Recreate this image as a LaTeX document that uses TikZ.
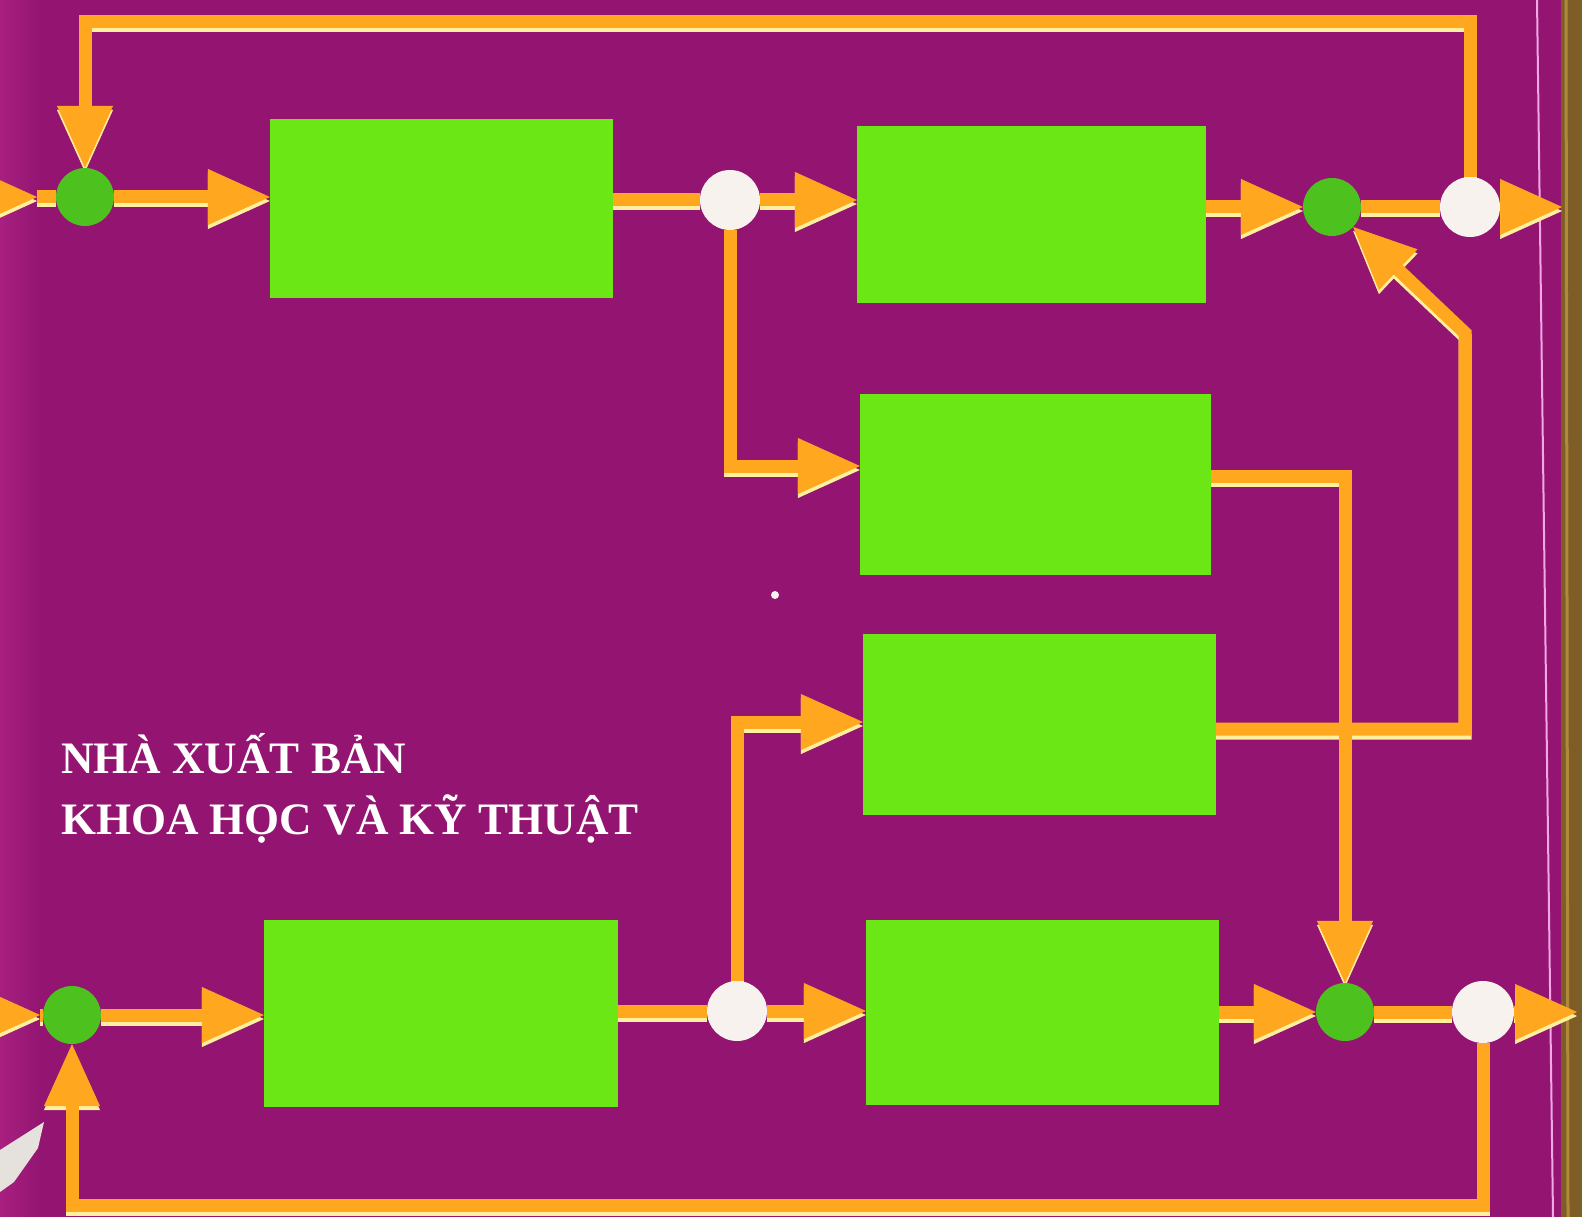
\documentclass[tikz,border=0pt]{standalone}
\usepackage{fontspec}
\setmainfont{Liberation Serif}
\usetikzlibrary{arrows.meta}
\pgfdeclarelayer{fg}
\pgfsetlayers{main,fg}
\definecolor{bgmag}{HTML}{931571}
\definecolor{bgmagl}{HTML}{A81F80}
\definecolor{lineor}{HTML}{FFA81F}
\definecolor{linecr}{HTML}{FFF0A0}
\definecolor{boxgreen}{HTML}{6AE714}
\definecolor{circgreen}{HTML}{4DC21F}
\definecolor{whitec}{HTML}{F7F2EE}
\definecolor{spine}{HTML}{7E5E26}
\definecolor{spinel}{HTML}{B08A3A}
\definecolor{pinkline}{HTML}{F2A6E6}
\newcommand\mkconn[2][]{%
  \draw[creamline,#1] #2;
  \draw[orline,#1] #2;}
\begin{document}
\begin{tikzpicture}[x=1pt,y=-1pt,
  gbox/.style={fill=boxgreen, draw=none, inner sep=0pt},
  sumj/.style={circle, fill=circgreen, minimum size=58pt, inner sep=0pt},
  branch/.style={circle, fill=whitec, minimum size=60pt, inner sep=0pt},
  orline/.style={draw=lineor, line width=13pt, line join=miter},
  creamline/.style={draw=linecr, line width=13pt, line join=miter, transform canvas={yshift=-4pt}},
  arr/.style={-{Triangle[length=62pt,width=56pt,line width=0.5pt]}},
  pubtext/.style={text=white, font=\bfseries\fontsize{45}{54}\selectfont, inner sep=0pt, anchor=base west}]
\useasboundingbox (0,0) rectangle (1582,1217);
% background
\fill[bgmag] (0,0) rectangle (1582,1217);
\shade[left color=bgmagl, right color=bgmag] (0,0) rectangle (40,1217);
\fill[spine] (1561,0) rectangle (1582,1217);
\draw[spinel, line width=3pt] (1566,0) -- (1568,1217);
\draw[pinkline, line width=2pt] (1537,0) -- (1553,1217);
\fill[whitec] (775,595) circle (4pt);
\fill[whitec!85!gray] (0,1150) -- (44,1122) -- (38,1148) -- (14,1182) -- (0,1192) -- cycle;
% coordinates
\coordinate (top) at (0,22);
\coordinate (bot) at (0,1205);
\coordinate (r3) at (0,466);
\coordinate (r3b) at (0,476);
\coordinate (r4) at (0,722);
\coordinate (r5) at (0,729);
\coordinate (rx) at (1465,333);
\coordinate (in1) at (-30,197);
\coordinate (a1) at (37,197);
\coordinate (in2) at (-27,1015);
\coordinate (a2) at (40,1015);
\coordinate (out1) at (1562,207);
\coordinate (out2) at (1577,1012);
% nodes
\begin{pgfonlayer}{fg}
\node[gbox, minimum width=343pt, minimum height=179pt] (B1) at (441.5,208.5) {};
\node[gbox, minimum width=349pt, minimum height=177pt] (B2) at (1031.5,214.5) {};
\node[gbox, minimum width=351pt, minimum height=181pt] (B3) at (1035.5,484.5) {};
\node[gbox, minimum width=353pt, minimum height=181pt] (B4) at (1039.5,724.5) {};
\node[gbox, minimum width=354pt, minimum height=187pt] (B5) at (441,1013.5) {};
\node[gbox, minimum width=353pt, minimum height=185pt] (B6) at (1042.5,1012.5) {};
\node[sumj] (G1) at (85,197) {};
\node[branch] (W1) at (730,200) {};
\node[sumj] (G2) at (1332,207) {};
\node[branch] (W2) at (1470,207) {};
\node[sumj] (G3) at (72,1015) {};
\node[branch] (W3) at (737,1011) {};
\node[sumj] (G4) at (1345,1012) {};
\node[branch, minimum size=62pt] (W4) at (1483,1012) {};
\node[pubtext] (t1) at (61,773) {NHÀ XUẤT BẢN};
\node[pubtext] (t2) at (61,834) {KHOA HỌC VÀ KỸ THUẬT};
\end{pgfonlayer}
% connectors
\mkconn{(a1) -- (G1)}
\mkconn[arr]{(in1) -- (a1)}
\mkconn[arr]{(G1) -- (G1 -| B1.west)}
\mkconn{(B1.east |- W1) -- (W1)}
\mkconn[arr]{(W1) -- (W1 -| B2.west)}
\mkconn[arr]{(B2.east |- G2) -- (G2)}
\mkconn{(G2) -- (W2)}
\mkconn[arr]{(W2) -- (out1)}
\mkconn[arr]{(W2) -- (W2 |- top) -- (G1 |- top) -- (G1)}
\mkconn[arr]{(W1) -- (W1 |- r3) -- (r3 -| B3.west)}
\mkconn[arr]{(B4.east |- r5) -- (rx |- r5) -- (rx) -- (G2)}
\mkconn[arr]{(B3.east |- r3b) -- (G4 |- r3b) -- (G4)}
\mkconn{(a2) -- (G3)}
\mkconn[arr]{(in2) -- (a2)}
\mkconn[arr]{(G3) -- (G3 -| B5.west)}
\mkconn{(B5.east |- W3) -- (W3)}
\mkconn[arr]{(W3) -- (W3 -| B6.west)}
\mkconn[arr]{(W3) -- (W3 |- r4) -- (r4 -| B4.west)}
\mkconn[arr]{(B6.east |- G4) -- (G4)}
\mkconn{(G4) -- (W4)}
\mkconn[arr]{(W4) -- (out2)}
\mkconn[arr]{(W4) -- (W4 |- bot) -- (G3 |- bot) -- (G3)}
\end{tikzpicture}
\end{document}
